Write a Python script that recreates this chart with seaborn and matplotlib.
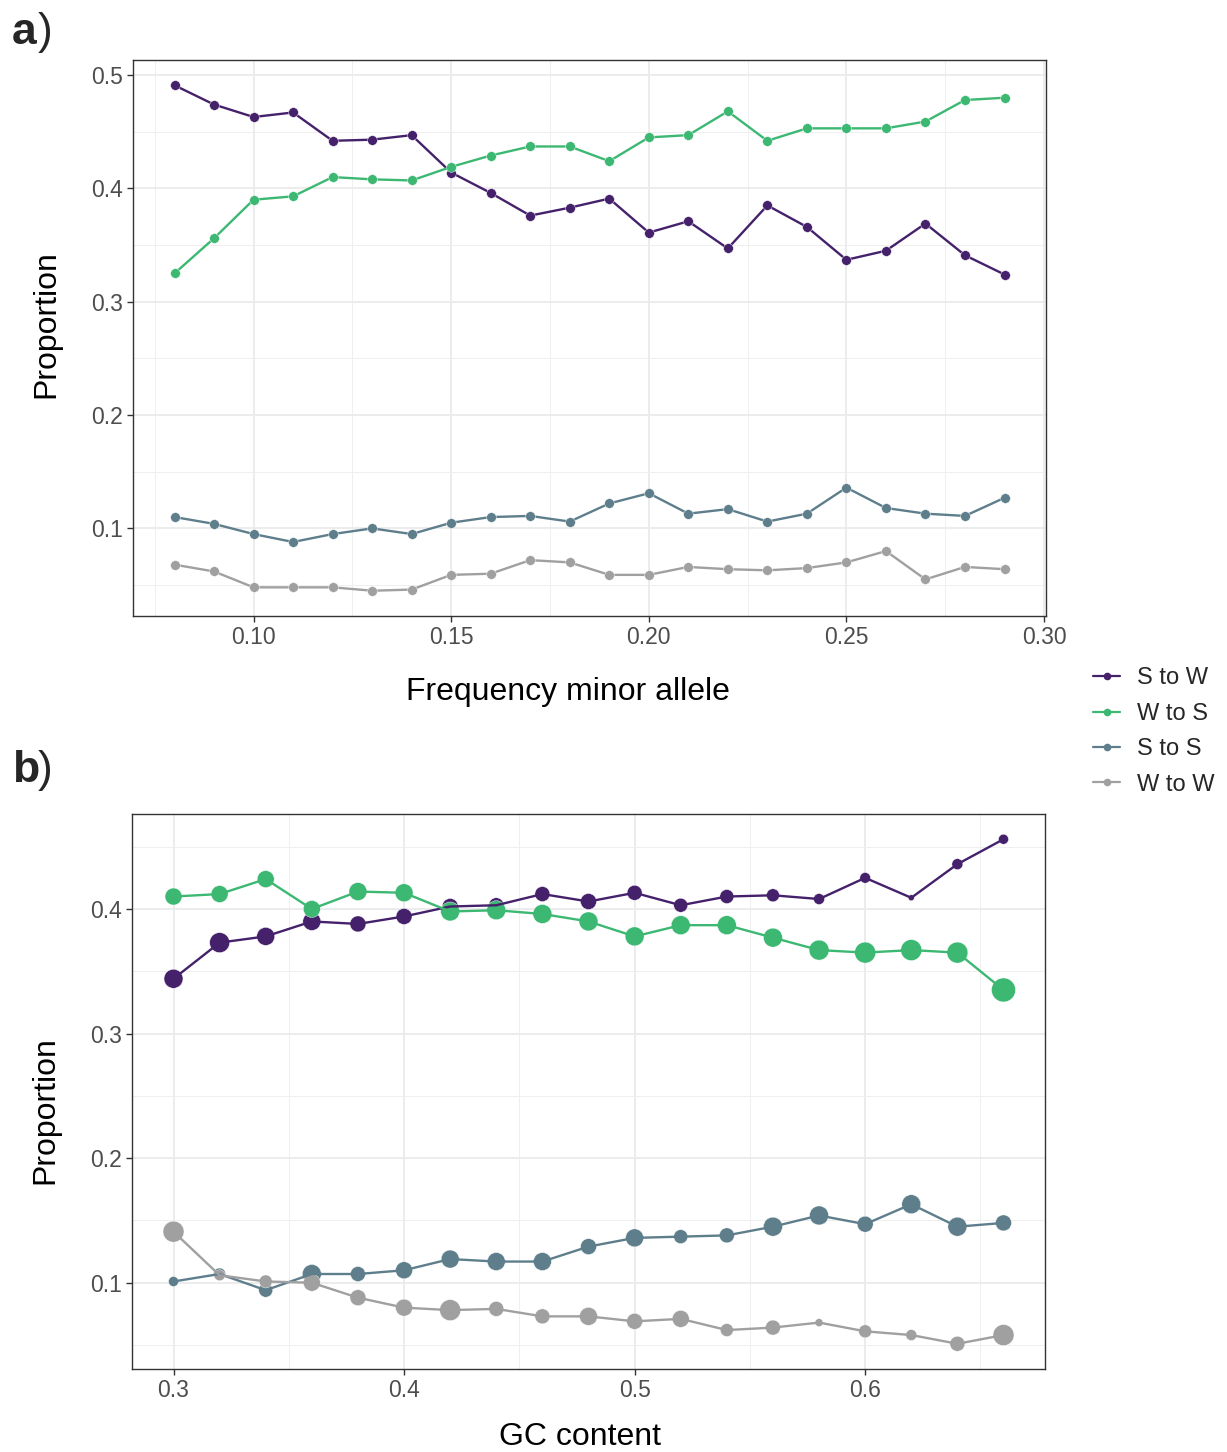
import matplotlib
matplotlib.use("Agg")
import matplotlib.pyplot as plt
from matplotlib.lines import Line2D
from matplotlib.ticker import FixedLocator, FormatStrFormatter
import pandas as pd
import seaborn as sns

sns.set_theme(style="white")
plt.rcParams["font.family"] = ["Liberation Sans", "DejaVu Sans"]

# ---- substitution classes and colours ----
classes = ["S to W", "W to S", "S to S", "W to W"]
colors = ["#45216B", "#3CB873", "#5E7E8C", "#A0A0A0"]
palette = dict(zip(classes, colors))

# ---- panel a: proportion by minor allele frequency ----
maf = [0.08, 0.09, 0.10, 0.11, 0.12, 0.13, 0.14, 0.15, 0.16, 0.17, 0.18,
       0.19, 0.20, 0.21, 0.22, 0.23, 0.24, 0.25, 0.26, 0.27, 0.28, 0.29]
maf_s_to_w = [0.491, 0.474, 0.463, 0.467, 0.442, 0.443, 0.447, 0.414, 0.396, 0.376, 0.383,
              0.391, 0.361, 0.371, 0.347, 0.385, 0.366, 0.337, 0.345, 0.369, 0.341, 0.324]
maf_w_to_s = [0.325, 0.356, 0.390, 0.393, 0.410, 0.408, 0.407, 0.419, 0.429, 0.437, 0.437,
              0.424, 0.445, 0.447, 0.468, 0.442, 0.453, 0.453, 0.453, 0.459, 0.478, 0.480]
maf_s_to_s = [0.110, 0.104, 0.095, 0.088, 0.095, 0.100, 0.095, 0.105, 0.110, 0.111, 0.106,
              0.122, 0.131, 0.113, 0.117, 0.106, 0.113, 0.136, 0.118, 0.113, 0.111, 0.127]
maf_w_to_w = [0.068, 0.062, 0.048, 0.048, 0.048, 0.045, 0.046, 0.059, 0.060, 0.072, 0.070,
              0.059, 0.059, 0.066, 0.064, 0.063, 0.065, 0.070, 0.080, 0.055, 0.066, 0.064]

# ---- panel b: proportion by GC content (point size = number of sites) ----
gc = [0.30, 0.32, 0.34, 0.36, 0.38, 0.40, 0.42, 0.44, 0.46, 0.48,
      0.50, 0.52, 0.54, 0.56, 0.58, 0.60, 0.62, 0.64, 0.66]
gc_s_to_w = [0.344, 0.373, 0.378, 0.390, 0.388, 0.394, 0.402, 0.403, 0.412, 0.406,
             0.413, 0.403, 0.410, 0.411, 0.408, 0.425, 0.409, 0.436, 0.456]
gc_w_to_s = [0.410, 0.412, 0.424, 0.400, 0.414, 0.413, 0.398, 0.399, 0.396, 0.390,
             0.378, 0.387, 0.387, 0.377, 0.367, 0.365, 0.367, 0.365, 0.335]
gc_s_to_s = [0.101, 0.107, 0.094, 0.107, 0.107, 0.110, 0.119, 0.117, 0.117, 0.129,
             0.136, 0.137, 0.138, 0.145, 0.154, 0.147, 0.163, 0.145, 0.148]
gc_w_to_w = [0.141, 0.106, 0.101, 0.100, 0.088, 0.080, 0.078, 0.079, 0.073, 0.073,
             0.069, 0.071, 0.062, 0.064, 0.068, 0.061, 0.058, 0.051, 0.058]
gc_n_s_to_w = [361, 400, 324, 324, 256, 256, 256, 225, 225, 256,
               225, 196, 196, 169, 121, 114, 36, 121, 100]
gc_n_w_to_s = [289, 289, 289, 289, 324, 324, 361, 361, 361, 361,
               361, 361, 361, 361, 400, 441, 441, 441, 576]
gc_n_s_to_s = [100, 144, 196, 361, 225, 289, 324, 324, 324, 256,
               324, 196, 225, 361, 361, 256, 361, 361, 256]
gc_n_w_to_w = [441, 121, 169, 289, 256, 289, 441, 225, 225, 324,
               256, 289, 169, 225, 64, 169, 121, 225, 441]


def to_long(x, series, weights=None):
    frames = []
    for i, (name, vals) in enumerate(zip(classes, series)):
        d = {"x": x, "prop": vals, "type": name}
        if weights is not None:
            d["n"] = weights[i]
        frames.append(pd.DataFrame(d))
    return pd.concat(frames, ignore_index=True)


df_a = to_long(maf, [maf_s_to_w, maf_w_to_s, maf_s_to_s, maf_w_to_w])
df_b = to_long(gc, [gc_s_to_w, gc_w_to_s, gc_s_to_s, gc_w_to_w],
               [gc_n_s_to_w, gc_n_w_to_s, gc_n_s_to_s, gc_n_w_to_w])


def expanded(vals, frac=0.05):
    lo, hi = min(vals), max(vals)
    pad = (hi - lo) * frac
    return lo - pad, hi + pad


def style_axes(ax, xmaj, xmin, ymaj, ymin, xfmt, yfmt):
    ax.set_facecolor("white")
    ax.xaxis.set_major_locator(FixedLocator(xmaj))
    ax.xaxis.set_minor_locator(FixedLocator(xmin))
    ax.yaxis.set_major_locator(FixedLocator(ymaj))
    ax.yaxis.set_minor_locator(FixedLocator(ymin))
    ax.xaxis.set_major_formatter(FormatStrFormatter(xfmt))
    ax.yaxis.set_major_formatter(FormatStrFormatter(yfmt))
    ax.grid(which="major", color="#EBEBEB", linewidth=1.3)
    ax.grid(which="minor", color="#EFEFEF", linewidth=0.7)
    ax.set_axisbelow(True)
    for sp in ax.spines.values():
        sp.set_visible(True)
        sp.set_color("#333333")
        sp.set_linewidth(1.0)
    ax.tick_params(which="major", length=4.5, width=1.0, color="#333333",
                   labelsize=16.5, labelcolor="#4D4D4D", pad=3,
                   bottom=True, left=True)
    ax.tick_params(which="minor", length=0)


W, H = 1227, 1452
fig = plt.figure(figsize=(W / 100, H / 100), dpi=100)
ax_a = fig.add_axes([133 / W, 1 - 616 / H, 913 / W, 556 / H])
ax_b = fig.add_axes([132 / W, 1 - 1369 / H, 913 / W, 555 / H])

# panel a
sns.lineplot(data=df_a, x="x", y="prop", hue="type", hue_order=classes,
             palette=palette, estimator=None, marker="o", markersize=7,
             markeredgewidth=0.3, markeredgecolor="white", linewidth=1.7,
             legend=False, ax=ax_a)
ax_a.set_xlim(*expanded(maf))
ax_a.set_ylim(*expanded(df_a["prop"]))
style_axes(ax_a,
           [0.10, 0.15, 0.20, 0.25, 0.30], [0.075, 0.125, 0.175, 0.225, 0.275],
           [0.1, 0.2, 0.3, 0.4, 0.5], [0.05, 0.15, 0.25, 0.35, 0.45],
           "%.2f", "%.1f")
ax_a.set_xlabel("Frequency minor allele", fontsize=23, color="black")
ax_a.set_ylabel("Proportion", fontsize=23, color="black")
ax_a.xaxis.set_label_coords(0.476, -0.109)
ax_a.yaxis.set_label_coords(-0.078, 0.525)

# panel b
sns.lineplot(data=df_b, x="x", y="prop", hue="type", hue_order=classes,
             palette=palette, estimator=None, linewidth=1.7,
             legend=False, ax=ax_b)
sns.scatterplot(data=df_b, x="x", y="prop", hue="type", hue_order=classes,
                palette=palette, size="n", sizes=(18.7, 298.6),
                size_norm=(36, 576), linewidth=0.3, edgecolor="white",
                legend=False, ax=ax_b)
ax_b.set_xlim(*expanded(gc))
ax_b.set_ylim(*expanded(df_b["prop"]))
style_axes(ax_b,
           [0.3, 0.4, 0.5, 0.6], [0.35, 0.45, 0.55, 0.65],
           [0.1, 0.2, 0.3, 0.4], [0.05, 0.15, 0.25, 0.35, 0.45],
           "%.1f", "%.1f")
ax_b.set_xlabel("GC content", fontsize=23, color="black")
ax_b.set_ylabel("Proportion", fontsize=23, color="black")
ax_b.xaxis.set_label_coords(0.491, -0.096)
ax_b.yaxis.set_label_coords(-0.078, 0.467)

# panel tags
for y, letter in [(1 - 44 / H, "a"), (1 - 782 / H, "b")]:
    fig.text(12 / W, y, letter, fontsize=32, fontweight="bold",
             va="baseline", ha="left")
    fig.text(38 / W, y, ")", fontsize=32, va="baseline", ha="left")

# shared legend
handles = [Line2D([0], [0], color=c, marker="o", markersize=5.5,
                  linewidth=1.6, markeredgewidth=0) for c in colors]
fig.legend(handles, classes, loc="center left",
           bbox_to_anchor=(1093 / W, 1 - 731.5 / H), frameon=False,
           fontsize=17, handlelength=1.15, handletextpad=0.7,
           labelspacing=0.57, borderpad=0, borderaxespad=0)

fig.savefig("out.png", dpi=100)
